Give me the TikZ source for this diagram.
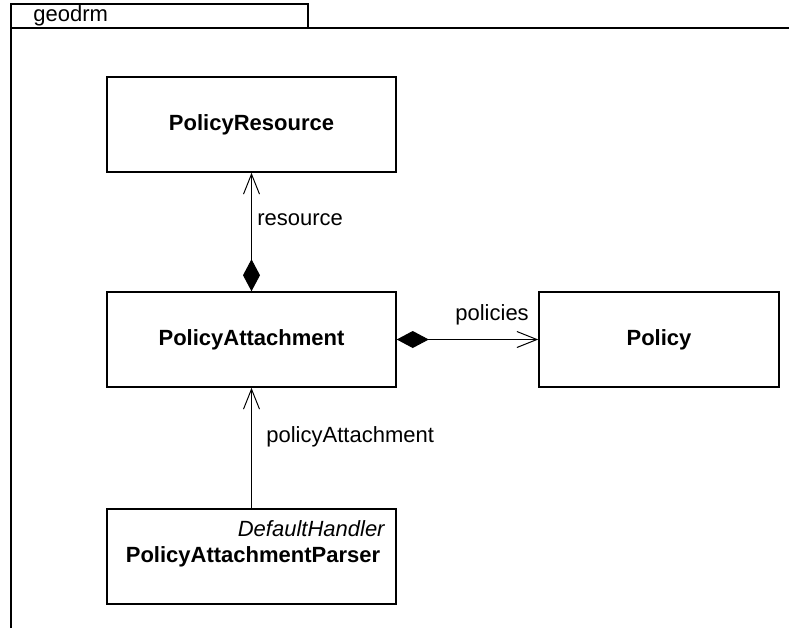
\documentclass[tikz,border=0pt]{standalone}
\usepackage{fontspec}
\setmainfont{Liberation Sans}
\usetikzlibrary{arrows.meta}
\begin{document}
\begin{tikzpicture}[x=0.5pt,y=-0.5pt,
  every node/.style={font=\fontsize{11}{13}\selectfont},
  classbox/.style={draw, line width=0.75pt, rectangle, inner sep=0pt, minimum width=144.5pt, minimum height=47.5pt, font=\fontsize{11}{13}\selectfont\bfseries},
  lbl/.style={inner sep=0pt, anchor=west},
  assoc/.style={line width=0.5pt, {Diamond[length=16pt,width=8.5pt]}-{Straight Barb[length=10pt,width=8pt,line width=0.5pt]}},
  gen/.style={line width=0.5pt, -{Straight Barb[length=10pt,width=8pt,line width=0.5pt]}}]
  \useasboundingbox (0,0) rectangle (789,628);
  % package frame with its name tab
  \draw[line width=0.75pt] (11,628) -- (11,4) -- (308,4) -- (308,28);
  \draw[line width=0.75pt] (11,28) -- (789,28);
  \node[anchor=west, inner sep=0pt] (pkg) at (33,16) {geodrm};
  % classes
  \node[classbox] (res) at (251.5,124.5) {PolicyResource};
  \node[classbox] (att) at (251.5,339.5) {PolicyAttachment};
  \node[classbox, minimum width=120pt] (pol) at (659,339.5) {Policy};
  \node[classbox] (par) at (251.5,556.5) {};
  \node[anchor=east, inner sep=0pt, font=\fontsize{11}{13}\selectfont\itshape] (parst) at (385,529) {DefaultHandler};
  \node[inner sep=0pt, font=\fontsize{11}{13}\selectfont\bfseries] (parname) at (253,557) {PolicyAttachmentParser};
  % associations
  \draw[assoc] (att.north) -- (res.south);
  \draw[assoc] (att.east |- pol.west) -- (pol.west);
  \draw[gen] (par.north) -- (att.south);
  % role names
  \node[lbl] (lres) at (257,220) {resource};
  \node[lbl] (lpol) at (455,315) {policies};
  \node[lbl] (lpa) at (266,437) {policyAttachment};
\end{tikzpicture}
\end{document}
